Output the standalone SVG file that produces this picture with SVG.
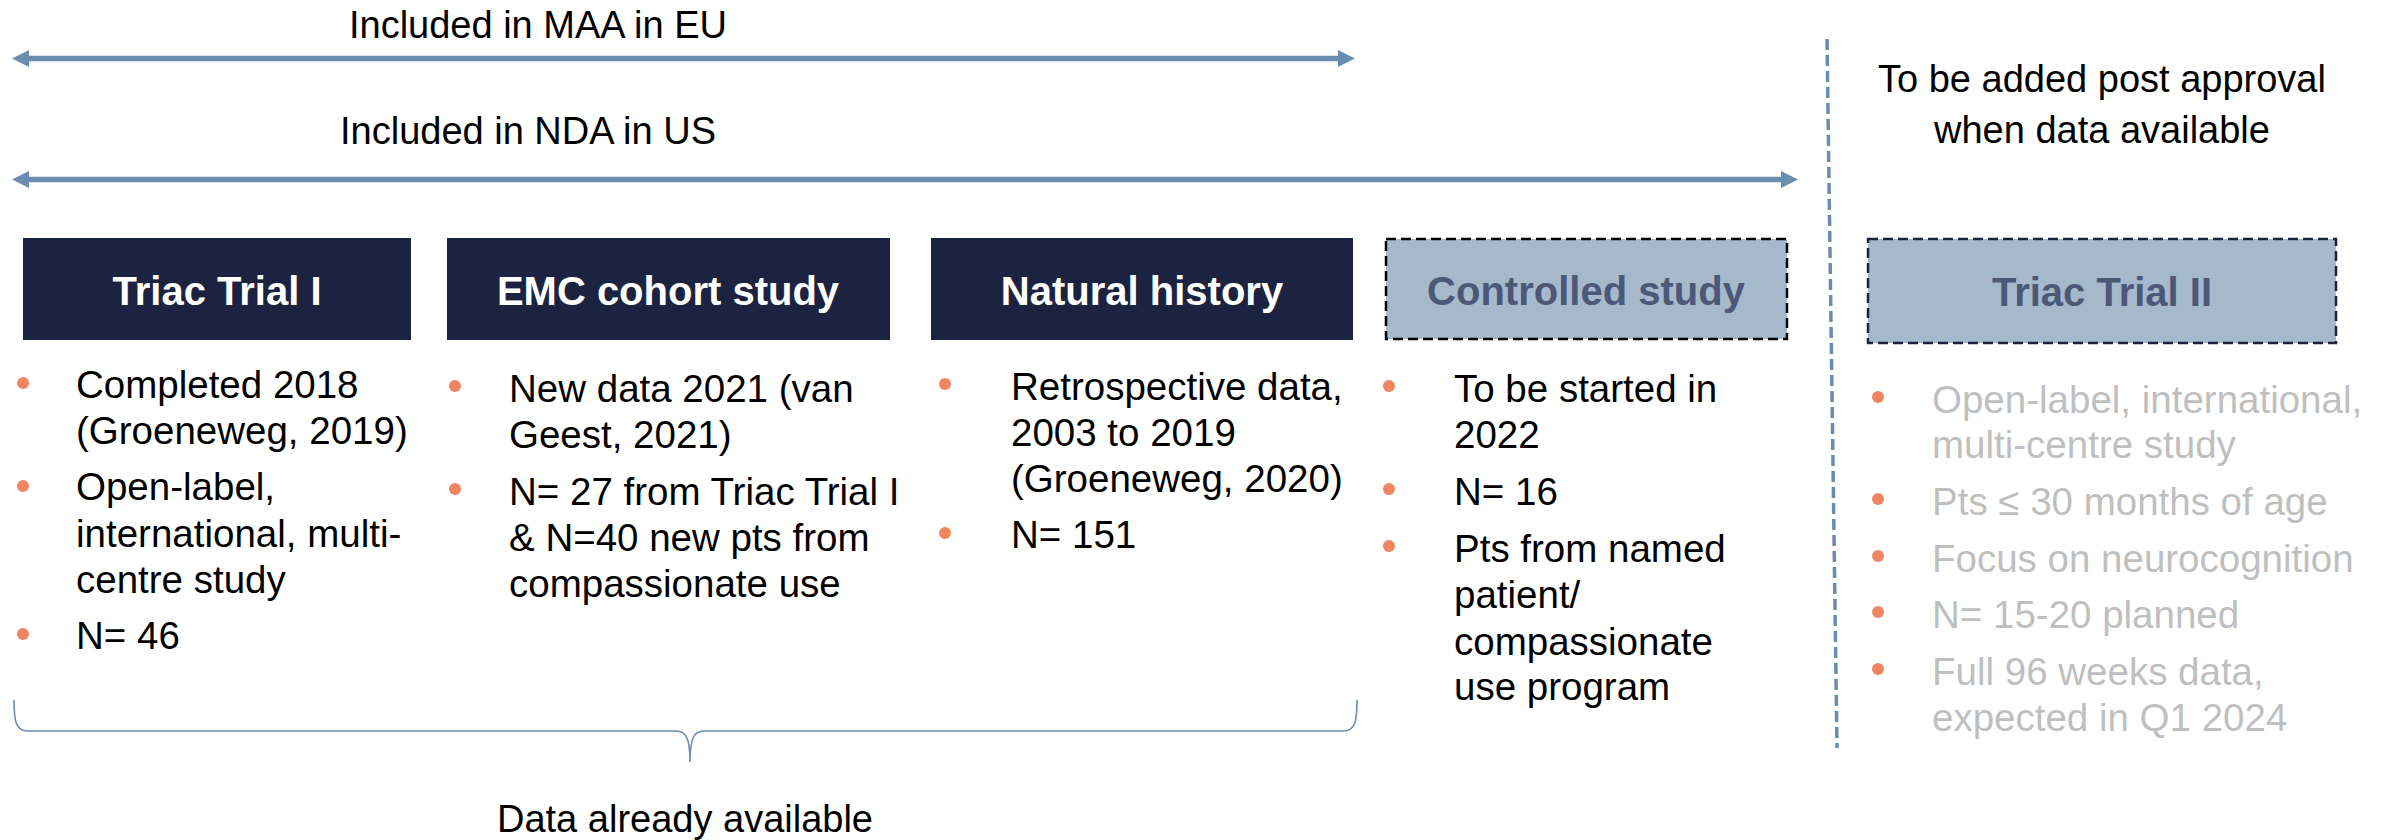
<svg xmlns="http://www.w3.org/2000/svg" width="2402" height="840" viewBox="0 0 2402 840">
<style>
text{font-family:"Liberation Sans",Arial,sans-serif;}
.lbl{font-size:38px;fill:#000;}
.body{font-size:38.5px;fill:#000;}
.gray{font-size:38.5px;fill:#BFBFBF;}
.ttl{font-size:40px;font-weight:bold;text-anchor:middle;}
.navy{fill:#1B2340;}
.light{fill:#A5B8CC;}
.wt{fill:#FFFFFF;}
.lt{fill:#4B5877;}
.dot{fill:#F0855F;}
.arr{stroke:#6A8CAF;stroke-width:5.5;fill:none;}
</style>
<defs>
<marker id="ah" viewBox="0 0 10 10" refX="0" refY="5" markerWidth="17" markerHeight="18" markerUnits="userSpaceOnUse" orient="auto-start-reverse">
<path d="M0,0 L10,5 L0,10 z" fill="#6A8CAF"/>
</marker>
</defs>

<g id="connectors">
<line class="arr" x1="29" y1="58.5" x2="1338" y2="58.5" marker-start="url(#ah)" marker-end="url(#ah)"/>
<line class="arr" x1="29" y1="179.5" x2="1781" y2="179.5" marker-start="url(#ah)" marker-end="url(#ah)"/>
<line x1="1827" y1="39" x2="1837" y2="748" stroke="#6A8CAF" stroke-width="3.5" stroke-dasharray="11,5"/>
<path d="M14,700 C14,722 16,731 28,731 L676,731 C686,731 690,738 690,762 C690,738 694,731 704,731 L1343,731 C1355,731 1357,722 1357,700" fill="none" stroke="#6A8CAF" stroke-width="1.6"/>
</g>

<g id="label-maa"><text class="lbl" x="538" y="38" text-anchor="middle">Included in MAA in EU</text></g>
<g id="label-nda"><text class="lbl" x="528" y="144" text-anchor="middle">Included in NDA in US</text></g>
<g id="label-post">
<text class="lbl" x="2102" y="92" text-anchor="middle">To be added post approval</text>
<text class="lbl" x="2102" y="143" text-anchor="middle">when data available</text>
</g>
<g id="label-data"><text class="lbl" x="685" y="832" text-anchor="middle">Data already available</text></g>

<g id="node-triac1">
<rect class="navy" x="23" y="238" width="388" height="102"/>
<text class="ttl wt" x="217" y="305">Triac Trial I</text>
<circle class="dot" cx="23" cy="383" r="6"/>
<text class="body" x="76" y="398">Completed 2018</text>
<text class="body" x="76" y="444">(Groeneweg, 2019)</text>
<circle class="dot" cx="23" cy="486" r="6"/>
<text class="body" x="76" y="500">Open-label,</text>
<text class="body" x="76" y="547">international, multi-</text>
<text class="body" x="76" y="593">centre study</text>
<circle class="dot" cx="23" cy="634" r="6"/>
<text class="body" x="76" y="649">N= 46</text>
</g>

<g id="node-emc">
<rect class="navy" x="447" y="238" width="443" height="102"/>
<text class="ttl wt" x="668" y="305">EMC cohort study</text>
<circle class="dot" cx="455" cy="386" r="6"/>
<text class="body" x="509" y="402">New data 2021 (van</text>
<text class="body" x="509" y="448">Geest, 2021)</text>
<circle class="dot" cx="455" cy="489" r="6"/>
<text class="body" x="509" y="505">N= 27 from Triac Trial I</text>
<text class="body" x="509" y="551">&amp; N=40 new pts from</text>
<text class="body" x="509" y="597">compassionate use</text>
</g>

<g id="node-natural">
<rect class="navy" x="931" y="238" width="422" height="102"/>
<text class="ttl wt" x="1142" y="305">Natural history</text>
<circle class="dot" cx="945" cy="384" r="6"/>
<text class="body" x="1011" y="400">Retrospective data,</text>
<text class="body" x="1011" y="446">2003 to 2019</text>
<text class="body" x="1011" y="492">(Groeneweg, 2020)</text>
<circle class="dot" cx="945" cy="533" r="6"/>
<text class="body" x="1011" y="548">N= 151</text>
</g>

<g id="node-controlled">
<rect class="light" x="1386" y="239" width="401" height="100" stroke="#000" stroke-width="2.5" stroke-dasharray="10,5"/>
<text class="ttl lt" x="1586" y="305">Controlled study</text>
<circle class="dot" cx="1389" cy="386" r="6"/>
<text class="body" x="1454" y="402">To be started in</text>
<text class="body" x="1454" y="448">2022</text>
<circle class="dot" cx="1389" cy="489" r="6"/>
<text class="body" x="1454" y="505">N= 16</text>
<circle class="dot" cx="1389" cy="546" r="6"/>
<text class="body" x="1454" y="562">Pts from named</text>
<text class="body" x="1454" y="608">patient/</text>
<text class="body" x="1454" y="655">compassionate</text>
<text class="body" x="1454" y="700">use program</text>
</g>

<g id="node-triac2">
<rect class="light" x="1868" y="239" width="468" height="104" stroke="#1B2340" stroke-width="2.5" stroke-dasharray="10,5"/>
<text class="ttl lt" x="2102" y="306">Triac Trial II</text>
<circle class="dot" cx="1878" cy="397" r="6"/>
<text class="gray" x="1932" y="413">Open-label, international,</text>
<text class="gray" x="1932" y="458">multi-centre study</text>
<circle class="dot" cx="1878" cy="499" r="6"/>
<text class="gray" x="1932" y="515">Pts ≤ 30 months of age</text>
<circle class="dot" cx="1878" cy="556" r="6"/>
<text class="gray" x="1932" y="572">Focus on neurocognition</text>
<circle class="dot" cx="1878" cy="612" r="6"/>
<text class="gray" x="1932" y="628">N= 15-20 planned</text>
<circle class="dot" cx="1878" cy="669" r="6"/>
<text class="gray" x="1932" y="685">Full 96 weeks data,</text>
<text class="gray" x="1932" y="731">expected in Q1 2024</text>
</g>
</svg>
